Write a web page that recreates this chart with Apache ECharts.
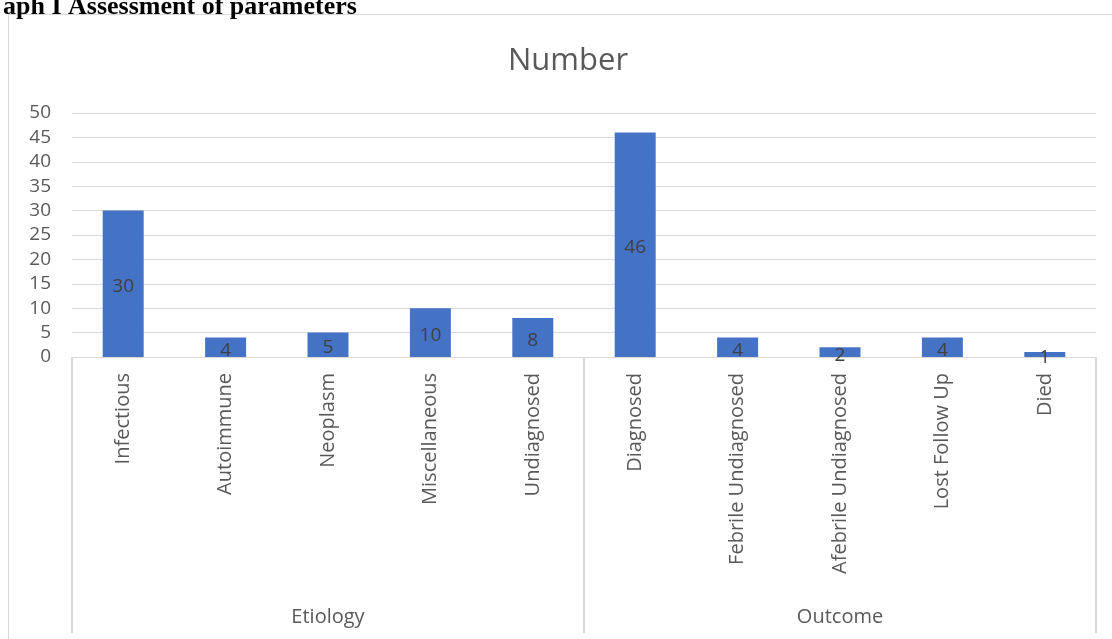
<!DOCTYPE html>
<html>
<head>
<meta charset="utf-8">
<script src="https://cdn.jsdelivr.net/npm/echarts@6/dist/echarts.min.js"></script>
<style>
html,body{margin:0;padding:0;background:#fff;overflow:hidden;}
#frame{position:absolute;left:8px;top:14px;width:1130px;height:640px;border:1px solid #d9d9d9;box-sizing:border-box;}
#chart{position:absolute;left:0;top:0;width:1112px;height:639px;}
</style>
</head>
<body>
<div id="frame"></div>
<div id="chart"></div>
<script>
const categories = ['Infectious','Autoimmune','Neoplasm','Miscellaneous','Undiagnosed','Diagnosed','Febrile Undiagnosed','Afebrile Undiagnosed','Lost Follow Up','Died'];
const values = [30, 4, 5, 10, 8, 46, 4, 2, 4, 1];
const groups = ['Etiology', 'Outcome'];
const chartTitle = 'Number';
const caption = 'aph I Assessment of parameters';

const font = '"Open Sans", "Noto Sans", sans-serif';
const chart = echarts.init(document.getElementById('chart'));
chart.setOption({
  animation: false,
  title: [
    {text: chartTitle, left: 503, top: 41, textStyle: {fontFamily: font, fontSize: 31, fontWeight: 'normal', color: '#595959'}},
    {text: caption, left: -2, top: -11, textStyle: {fontFamily: '"Liberation Serif", serif', fontSize: 26, fontWeight: 'bold', color: '#000'}}
  ],
  grid: {left: 72, right: 16, top: 113, bottom: 282},
  xAxis: [
    {
      type: 'category', data: categories, position: 'bottom',
      axisLine: {show: true, lineStyle: {color: '#d9d9d9', width: 1}},
      axisTick: {show: false},
      axisLabel: {rotate: 90, interval: 0, margin: 16, fontFamily: font, fontSize: 20, color: '#595959'}
    },
    {
      type: 'category', data: groups, position: 'bottom',
      axisLine: {show: false},
      axisTick: {show: true, length: 276, lineStyle: {color: '#d9d9d9', width: 2}},
      axisLabel: {margin: 250, fontFamily: font, fontSize: 20, color: '#595959'}
    }
  ],
  yAxis: {
    type: 'value', min: 0, max: 50, interval: 5,
    axisLine: {show: false}, axisTick: {show: false},
    splitLine: {lineStyle: {color: '#d9d9d9', width: 1}},
    axisLabel: {margin: 21, fontFamily: font, fontSize: 19, color: '#595959'}
  },
  series: [{
    type: 'bar', data: values, xAxisIndex: 0, barWidth: '40%',
    itemStyle: {color: '#4472C4'},
    label: {show: true, position: 'inside', offset: [0, 3], fontFamily: font, fontSize: 19, color: '#404040'}
  }]
});
</script>
</body>
</html>
